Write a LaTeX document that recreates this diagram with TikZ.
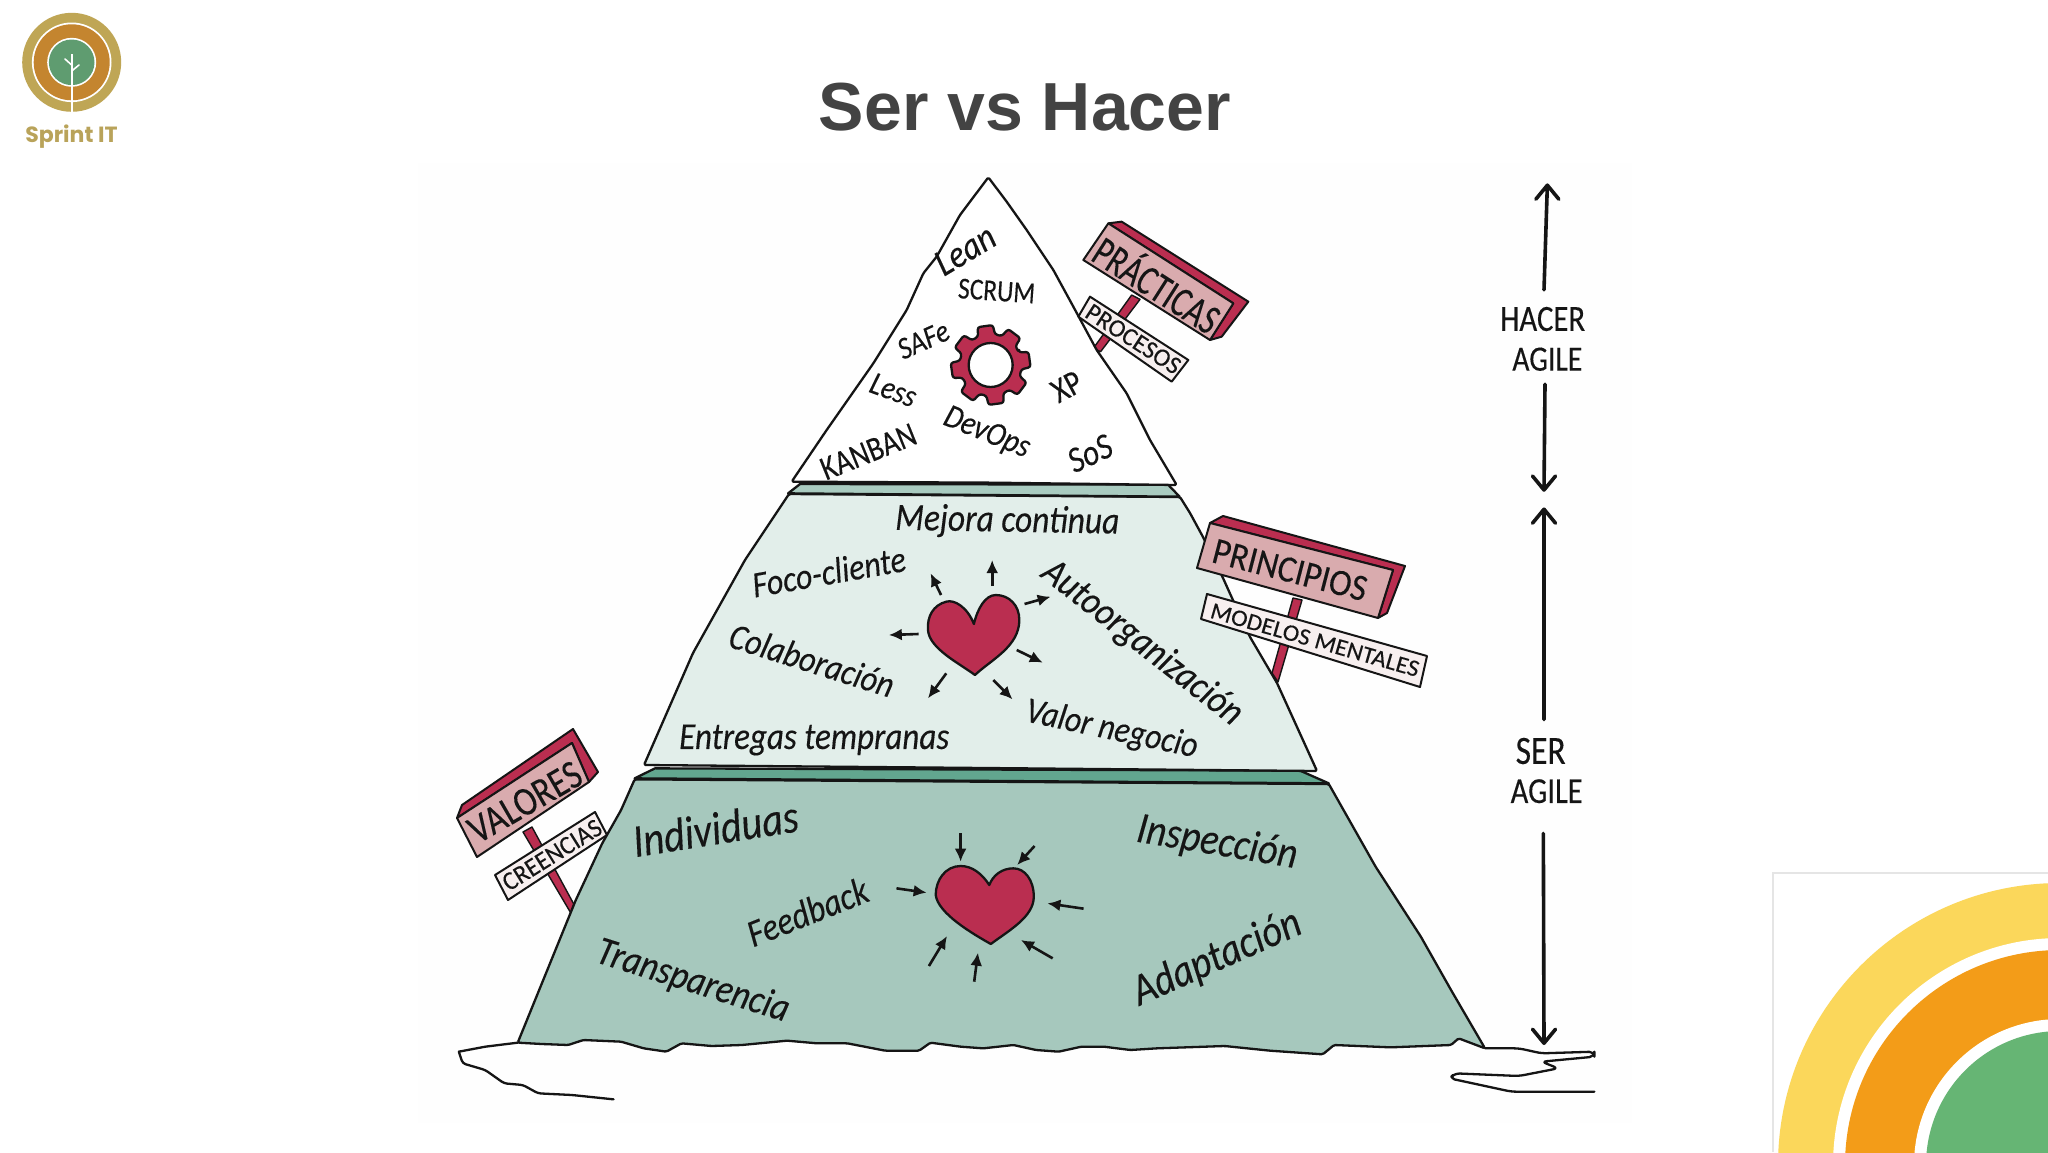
\documentclass[tikz,border=0pt]{standalone}
\usepackage{fontspec}
\usepackage{graphicx}
\setmainfont{Liberation Sans}
\newfontfamily\handfont[FakeBold=0.25]{Carlito}
\newfontfamily\logofont{Poppins}
\usetikzlibrary{arrows.meta}
\definecolor{inkc}{HTML}{151515}
\definecolor{midc}{HTML}{E2EEEA}
\definecolor{lowc}{HTML}{A6C8BD}
\definecolor{slabA}{HTML}{A9CBC0}
\definecolor{slabB}{HTML}{62A68F}
\definecolor{redc}{HTML}{BA2E50}
\definecolor{pinkc}{HTML}{D9ABAE}
\definecolor{paleS}{HTML}{F7EFEF}
\definecolor{titlec}{HTML}{434343}
\definecolor{logoO}{HTML}{BFA655}
\definecolor{logoM}{HTML}{C4852F}
\definecolor{logoG}{HTML}{5F9C70}
\definecolor{logoT}{HTML}{B9A35A}
\definecolor{ringY}{HTML}{FBD75B}
\definecolor{ringO}{HTML}{F39C18}
\definecolor{ringG}{HTML}{66B574}
\newcommand\htxt[3][1.2]{\resizebox{#2pt}{!}{\scalebox{1}[#1]{\handfont #3}}}
\newcommand\hitx[3][1.15]{\resizebox{#2pt}{!}{\scalebox{1}[#1]{\handfont\itshape #3}}}
\newcommand\barbat[2]{([shift={(-11.5pt,#2)}]#1) -- (#1) -- ([shift={(11.5pt,#2)}]#1)}
\tikzset{
  zone/.style={shift={(760,160)},x=.33333pt,y=-.33333pt},
  zthree/.style={shift={(620,480)},x=.522pt,y=-.33333pt},
  zfour/.style={shift={(440,720)},x=.7545pt,y=-.33333pt},
  zsix/.style={shift={(1440,160)},x=.33333pt,y=-.6pt},
  ink/.style={draw=inkc,line width=2.3pt,line join=round,line cap=round},
  boardline/.style={draw=inkc,line width=2pt,line join=round},
  label/.style={inner sep=0pt,text=inkc},
  heartarrow/.style={draw=inkc,line width=2.6pt,-{Latex[length=13pt,width=12pt]}},
  barb/.style={draw=inkc,line width=3.6pt,line cap=round,line join=round},
  pole/.style={draw=inkc,line width=1.4pt,fill=redc,line join=round},
}
\begin{document}
\begin{tikzpicture}[x=1pt,y=-1pt]
\useasboundingbox (0,0) rectangle (2048,1152);
\fill[white] (0,0) rectangle (2048,1152);
\fill[black!0.35] (418,163) rectangle (1632,1123);

% title
\node[font=\bfseries\fontsize{68}{68}\selectfont,text=titlec,inner sep=0pt] (title) at (1025,107) {Ser vs Hacer};

% logo
\fill[logoO] (71.7,62.3) circle (49.5);
\fill[white] (71.7,62.3) circle (39.8);
\fill[logoM] (71.7,62.3) circle (38);
\fill[white] (71.7,62.3) circle (24.5);
\fill[logoG] (71.7,62.3) circle (22.8);
\draw[white,line width=1.8pt] (71.7,113) -- (71.7,54);
\draw[white,line width=1.6pt,line cap=round] (71.7,71) -- (79,65);
\draw[white,line width=1.6pt,line cap=round] (71.7,65) -- (65,59);
\node[font=\logofont\bfseries\fontsize{22}{22}\selectfont,text=logoT,inner sep=0pt] (logotext) at (71.5,137) {Sprint IT};

% corner artwork
\begin{scope}
\clip (1773,873) rectangle (2048,1152);
\fill[white] (1773,873) rectangle (2048,1152);
\fill[ringY] (2060,1165) circle (282);
\fill[white] (2060,1165) circle (227);
\fill[ringO] (2060,1165) circle (215);
\fill[white] (2060,1165) circle (146);
\fill[ringG] (2060,1165) circle (134);
\end{scope}
\draw[black!10,line width=1.2pt] (2048,873) -- (1773,873) -- (1773,1152);

% sign poles behind pyramid
\begin{scope}[zone]
\draw[pole] (1115,405) -- (1140,418) -- (1022,575) -- (1000,565) -- cycle;
\end{scope}
\draw[pole] (1293,598) -- (1302,600) -- (1278,682) -- (1272,673) -- cycle;
\draw[pole] (523,832) -- (532,827) -- (577,910) -- (572,915) -- cycle;

% pyramid: bottom
\begin{scope}[zfour]
\draw[ink,fill=lowc,rounded corners=1.5pt] (258,178) -- (240,270) -- (215,370) -- (180,540) -- (103,968)
 -- (135,972) -- (170,975) -- (190,960) -- (240,965) -- (270,985) -- (300,995) -- (320,970) -- (360,978) -- (400,975) -- (460,962)
 -- (500,970) -- (540,970) -- (590,992) -- (635,992) -- (650,968) -- (690,980) -- (720,985) -- (760,975) -- (790,990) -- (820,995)
 -- (850,980) -- (880,980) -- (915,990) -- (950,985) -- (1040,978) -- (1100,992) -- (1170,1003) -- (1185,975) -- (1260,982) -- (1340,975)
 -- (1350,955) -- (1385,985) -- (1340,810) -- (1300,650) -- (1240,440) -- (1195,260) -- (1178,192) -- cycle;
\draw[ink,rounded corners=1.5pt] (25,995) -- (60,980) -- (103,968);
\draw[ink,rounded corners=5pt] (1385,985) -- (1430,985) -- (1460,1000) -- (1530,995) -- (1530,1010) -- (1460,1025) -- (1482,1045) -- (1430,1068) -- (1345,1060) -- (1338,1075) -- (1420,1115) -- (1530,1115);
\draw[ink,rounded corners=3pt] (25,995) -- (30,1030) -- (60,1050) -- (85,1090) -- (110,1095) -- (130,1120) -- (175,1125) -- (230,1138);
% slab 2
\draw[ink,fill=slabB] (285,145) -- (1140,152) -- (1178,190) -- (258,175) -- cycle;
\end{scope}

% pyramid: middle
\draw[ink,fill=midc,rounded corners=1.5pt] (789,494) -- (745,560) -- (693,653) -- (644,765) -- (985,768) -- (1317,771) -- (1277,683) -- (1250,637) -- (1232,598) -- (1223,578) -- (1203,537) -- (1190,513) -- (1180,497) -- cycle;
\begin{scope}[zthree]
% slab 1
\draw[ink,fill=slabA] (345,12) -- (1050,14) -- (1072,50) -- (322,40) -- cycle;
\end{scope}

% pyramid: top
\begin{scope}[zone]
\draw[ink,fill=white,rounded corners=1.5pt] (685,52) -- (740,125) -- (800,210) -- (880,330) -- (940,440) -- (1010,570) -- (1100,700) -- (1170,840) -- (1250,975)
 -- (700,968) -- (95,965) -- (200,810) -- (340,610) -- (440,450) -- (490,340) -- (530,290) -- (600,165) -- cycle;
% gear
\begin{scope}[shift={(692,615)},x=1pt,y=-1pt]
\draw[ink,fill=redc,rounded corners=2.5pt,rotate=8] (-16:31) \foreach \a in {0,45,...,315}{ -- (\a-16:31) -- (\a-11:40) -- (\a+11:40) -- (\a+16:31)} -- cycle;
\draw[ink,fill=white] (0,0) circle (22);
\end{scope}
\node[label,rotate=31] (lean) at (615,270) {\hitx{64}{Lean}};
\node[label,rotate=-4] (scrum) at (710,393) {\htxt{77}{SCRUM}};
\node[label,rotate=24] (safe) at (490,540) {\hitx{53}{SAFe}};
\node[label,rotate=-20] (less) at (400,690) {\hitx{47}{Less}};
\node[label,rotate=22] (kanban) at (325,875) {\htxt{100}{KANBAN}};
\node[label,rotate=-22] (devops) at (680,820) {\hitx{90}{DevOps}};
\node[label,rotate=28] (xp) at (920,680) {\htxt{30}{XP}};
\node[label,rotate=25] (sos) at (990,880) {\hitx{45}{SoS}};
% practicas sign
\draw[boardline,fill=redc] (1045,190) -- (1085,185) -- (1465,425) -- (1385,530) -- (1350,540) -- (1420,430) -- cycle;
\draw[boardline,fill=pinkc] (970,300) -- (1045,190) -- (1420,430) -- (1350,540) -- cycle;
\node[label,rotate=-32.6] (practicas) at (1195,368) {\htxt[1.35]{141}{PRÁCTICAS}};
\draw[boardline,fill=paleS] (990,410) -- (1285,600) -- (1235,665) -- (955,470) -- cycle;
\node[label,rotate=-33] (procesos) at (1120,537) {\htxt[1]{108}{PROCESOS}};
\end{scope}

% middle labels
\begin{scope}[zthree]
\draw[ink,fill=redc] (678,432) .. controls (665,380) and (640,358) .. (625,365) .. controls (600,375) and (588,410) .. (590,450) .. controls (592,505) and (650,550) .. (680,585) .. controls (710,540) and (765,500) .. (765,420) .. controls (765,375) and (745,345) .. (720,345) .. controls (700,345) and (685,385) .. (678,432) -- cycle;
\draw[heartarrow] (615,345) -- (595,280);
\draw[heartarrow] (713,318) -- (713,240);
\draw[heartarrow] (775,372) -- (825,350);
\draw[heartarrow] (572,462) -- (515,465);
\draw[heartarrow] (760,510) -- (810,548);
\draw[heartarrow] (625,580) -- (590,655);
\draw[heartarrow] (715,600) -- (752,658);
\node[label,rotate=-1] (mejora) at (742,125) {\hitx{224}{Mejora continua}};
\node[label,rotate=10] (foco) at (400,275) {\hitx{155}{Foco-cliente}};
\node[label,rotate=-38] (auto) at (1000,490) {\hitx{244}{Autoorganización}};
\node[label,rotate=-17.5] (colab) at (368,540) {\hitx{171}{Colaboración}};
\node[label] (entregas) at (372,780) {\hitx{270}{Entregas tempranas}};
\node[label,rotate=-12] (valor) at (942,750) {\hitx{175}{Valor negocio}};
\end{scope}

% principios sign
\draw[boardline,fill=redc] (1210,523) -- (1223,516) -- (1405,566) -- (1387,613) -- (1378,618) -- (1393,570) -- cycle;
\draw[boardline,fill=pinkc] (1210,523) -- (1393,570) -- (1378,618) -- (1197,568) -- cycle;
\node[label,rotate=-14.5] (principios) at (1290,570) {\htxt[1.1]{158}{PRINCIPIOS}};
\draw[boardline,fill=paleS] (1207,594) -- (1427,656) -- (1420,687) -- (1201,619) -- cycle;
\node[label,rotate=-16] (modelos) at (1315,640) {\htxt[.95]{216}{MODELOS MENTALES}};

% lower labels
\begin{scope}[zfour]
\draw[ink,fill=redc] (728,495) .. controls (718,460) and (705,438) .. (690,438) .. controls (670,438) and (657,480) .. (657,525) .. controls (660,580) and (705,640) .. (730,672) .. controls (755,630) and (787,590) .. (787,530) .. controls (787,480) and (775,445) .. (760,445) .. controls (745,445) and (733,465) .. (728,495) -- cycle;
\draw[heartarrow] (690,340) -- (690,425);
\draw[heartarrow] (788,378) -- (765,435);
\draw[heartarrow] (605,505) -- (645,518);
\draw[heartarrow] (853,566) -- (805,550);
\draw[heartarrow] (648,738) -- (672,648);
\draw[heartarrow] (708,785) -- (713,698);
\draw[heartarrow] (812,715) -- (770,660);
\node[label,rotate=9] (individuas) at (365,325) {\hitx{167}{Individuas}};
\node[label,rotate=-9.5] (inspeccion) at (1030,370) {\hitx{162}{Inspección}};
\node[label,rotate=21.7] (feedback) at (487,575) {\hitx{127}{Feedback}};
\node[label,rotate=24] (adaptacion) at (1030,715) {\hitx{180}{Adaptación}};
\node[label,rotate=-17.5] (transparencia) at (335,785) {\hitx{200}{Transparencia}};
\end{scope}

% valores sign
\draw[boardline,fill=redc] (457,818) -- (462,805) -- (573,729) -- (598,772) -- (589,782) -- (572,743) -- cycle;
\draw[boardline,fill=pinkc] (457,818) -- (572,743) -- (589,782) -- (477,857) -- cycle;
\node[label,rotate=30] (valores) at (525,802) {\htxt[1.2]{124}{VALORES}};
\draw[boardline,fill=paleS] (495,875) -- (595,812) -- (607,835) -- (508,900) -- cycle;
\node[label,rotate=32] (creencias) at (552,855) {\htxt[1.05]{112}{CREENCIAS}};

% right side
\begin{scope}[zsix]
\node[label] (hacer) at (308,265) {\htxt{85}{HACER}};
\node[label] (agilea) at (322,332) {\htxt{70}{AGILE}};
\node[label] (ser) at (302,985) {\htxt{50}{SER}};
\node[label] (agileb) at (320,1052) {\htxt{72}{AGILE}};
\coordinate (tipa) at (322,42);
\coordinate (tipb) at (312,550);
\coordinate (tipc) at (312,582);
\coordinate (tipd) at (312,1472);
\draw[barb] (hacer.north) ++(4,-28) -- (tipa) \barbat{tipa}{-14pt};
\draw[barb] (agilea.south) ++(-7,22) -- (tipb) \barbat{tipb}{14pt};
\draw[barb] (ser.north) ++(10,-30) -- (tipc) \barbat{tipc}{-14pt};
\draw[barb] (agileb.south) ++(-10,50) -- (tipd) \barbat{tipd}{14pt};
\end{scope}
\end{tikzpicture}
\end{document}
